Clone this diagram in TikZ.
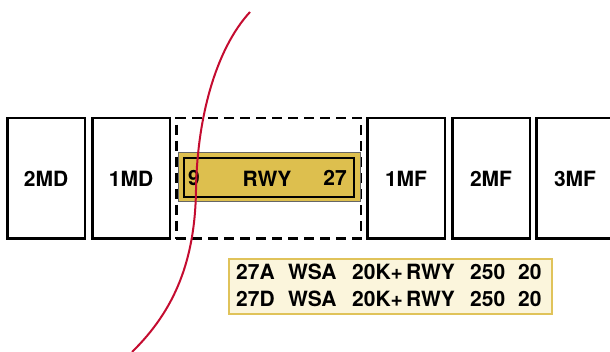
\documentclass[tikz,border=0pt]{standalone}
\usepackage{fontspec}
\setmainfont{TeX Gyre Heros}
\usepackage{xcolor}
\usepackage{tikz}
\definecolor{rwygold}{RGB}{221,191,78}
\definecolor{tagcream}{RGB}{251,245,220}
\definecolor{tagedge}{RGB}{224,195,90}
\definecolor{cutred}{RGB}{196,12,48}

\begin{document}
\begin{tikzpicture}[x=1pt,y=-1pt,font=\fontsize{21}{24}\selectfont\bfseries,
  bay/.style={draw,line width=2.5pt,minimum width=77.5pt,minimum height=120.5pt,inner sep=0pt}]
\useasboundingbox (0,0) rectangle (610,352);
\node[bay] (md2) at (46,178.5) {2MD};
\node[bay] (md1) at (131,178.5) {1MD};
\node[draw,line width=2.5pt,dash pattern=on 10pt off 6pt,minimum width=184.5pt,minimum height=120.5pt] (zone) at (268.5,178.5) {};
\node[bay] (mf1) at (406,178.5) {1MF};
\node[bay] (mf2) at (491,178.5) {2MF};
\node[bay] (mf3) at (575,178.5) {3MF};
\node[fill=rwygold,draw=black!60,line width=0.8pt,minimum width=182pt,minimum height=49pt] (strip) at (269,177) {};
\node[draw,line width=1.4pt,minimum width=170pt,minimum height=39pt] (rwy) at (269,177.5) {};
\node[anchor=west,inner sep=0pt] (end9) at (188,178) {9};
\node (rwytext) at (267,179) {RWY};
\node (end27) at (335,178) {27};
\node[fill=tagcream,draw=tagedge,line width=2pt,minimum width=323pt,minimum height=55pt] (tag) at (390.5,286.5) {};
\foreach \x/\a/\d [count=\i] in {236/27A/27D,288/WSA/WSA,352/20K+/20K+,406/RWY/RWY,470/250/250,518/20/20}{
  \node[anchor=west,inner sep=0pt] (a\i) at (\x,272) {\a};
  \node[anchor=west,inner sep=0pt] (d\i) at (\x,299) {\d};
}
\draw[cutred,line width=2pt] (250,12) .. controls (215,50) and (197,120) .. (196,190)
  .. controls (195,260) and (175,310) .. (132,352);
\end{tikzpicture}
\end{document}
